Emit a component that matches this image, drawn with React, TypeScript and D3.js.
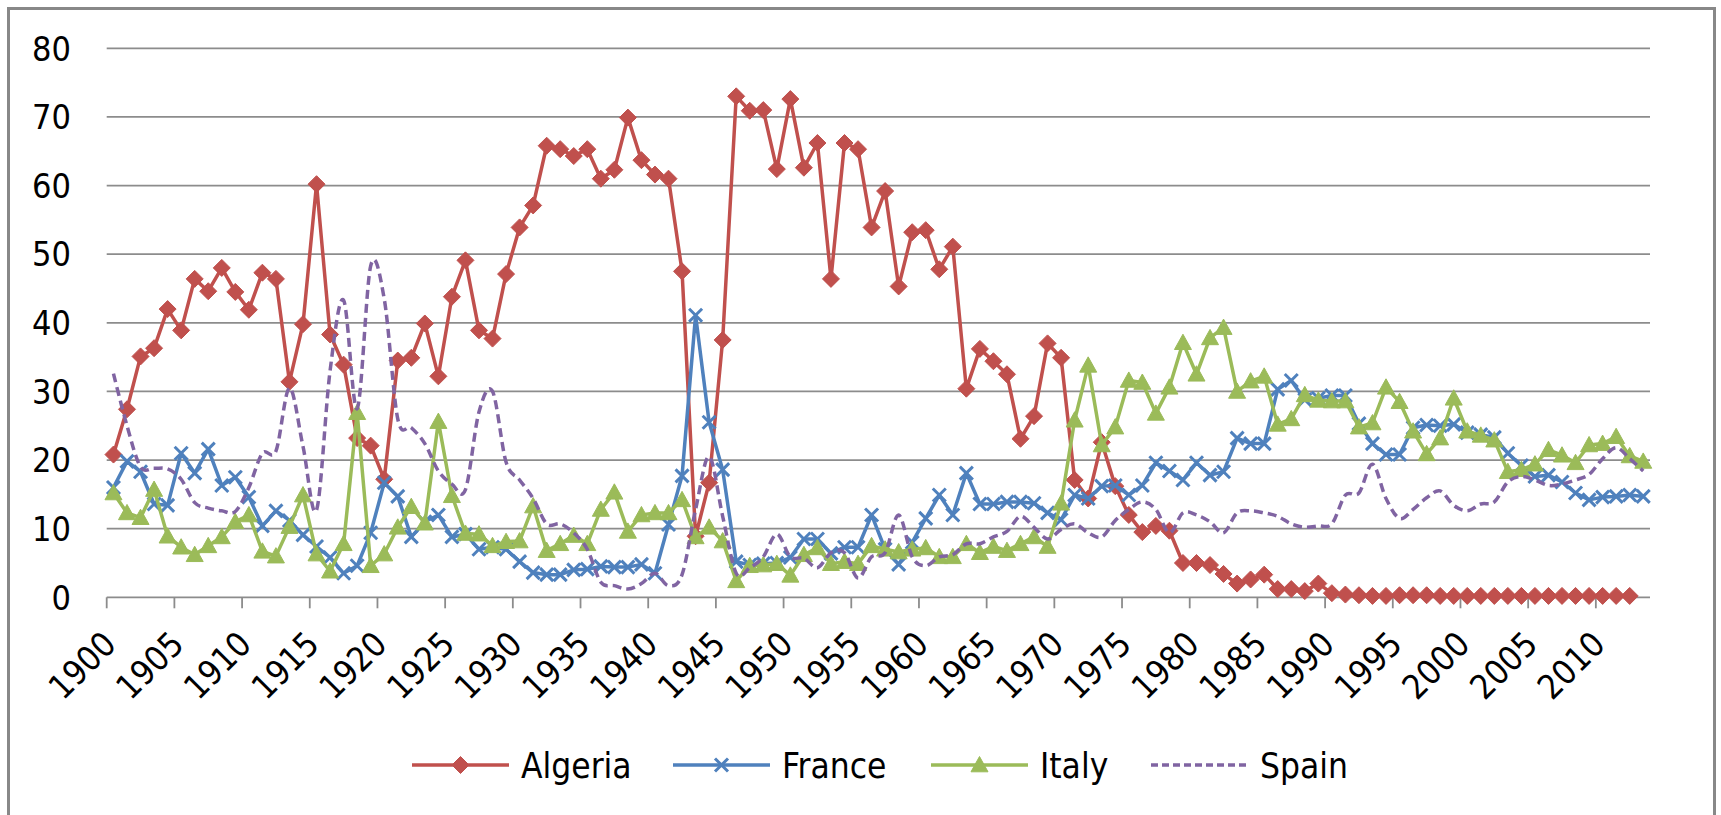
import React from "react";
import * as d3 from "d3";

// categories (years) and axis ticks
const years: number[] = d3.range(1900, 2014);
const tickYears = [1900, 1905, 1910, 1915, 1920, 1925, 1930, 1935, 1940, 1945, 1950, 1955, 1960, 1965, 1970, 1975, 1980, 1985, 1990, 1995, 2000, 2005, 2010];
const yTicks = [0, 10, 20, 30, 40, 50, 60, 70, 80];

// Algeria: 1900-2012
const algeria = [
  20.8, 27.4, 35.1, 36.3, 42.0, 38.9, 46.4, 44.6, 48.0, 44.5,
  41.9, 47.3, 46.4, 31.4, 39.8, 60.2, 38.3, 33.9, 23.2, 22.1,
  17.2, 34.5, 34.9, 39.9, 32.2, 43.8, 49.1, 38.9, 37.7, 47.1,
  53.9, 57.1, 65.8, 65.3, 64.3, 65.3, 61.0, 62.3, 69.9, 63.7,
  61.6, 61.0, 47.5, 8.9, 16.7, 37.5, 73.0, 70.9, 71.0, 62.4,
  72.6, 62.6, 66.2, 46.4, 66.2, 65.3, 53.9, 59.2, 45.3, 53.2,
  53.5, 47.8, 51.1, 30.4, 36.2, 34.4, 32.5, 23.1, 26.4, 37.0,
  34.9, 17.1, 14.4, 22.6, 16.2, 12.0, 9.5, 10.4, 9.7, 5.0,
  5.0, 4.7, 3.4, 2.0, 2.6, 3.3, 1.2, 1.2, 0.9, 2.0,
  0.6, 0.4, 0.3, 0.2, 0.2, 0.3, 0.3, 0.3, 0.2, 0.2,
  0.2, 0.2, 0.2, 0.2, 0.2, 0.2, 0.2, 0.2, 0.2, 0.2,
  0.2, 0.2, 0.2,
];

// France: 1900-2013
const france = [
  16.0, 19.8, 18.3, 13.6, 13.4, 21.0, 18.1, 21.6, 16.3, 17.5,
  14.6, 10.4, 12.6, 11.2, 9.1, 7.4, 5.8, 3.5, 4.6, 9.4,
  16.7, 14.7, 8.8, 11.0, 12.0, 8.8, 9.2, 7.0, 7.3, 7.0,
  5.2, 3.6, 3.3, 3.3, 4.0, 4.1, 4.5, 4.4, 4.4, 4.8,
  3.5, 10.6, 17.7, 41.1, 25.5, 18.6, 5.2, 4.7, 4.9, 5.0,
  5.8, 8.5, 8.5, 6.4, 7.3, 7.3, 12.0, 7.0, 4.8, 8.0,
  11.5, 14.9, 12.0, 18.1, 13.6, 13.6, 13.9, 13.9, 13.7, 12.3,
  11.3, 14.9, 14.4, 16.2, 16.3, 14.9, 16.3, 19.6, 18.4, 17.1,
  19.6, 17.8, 18.3, 23.2, 22.4, 22.4, 30.3, 31.6, 28.8, 29.0,
  29.4, 29.4, 25.3, 22.4, 20.8, 20.8, 24.7, 25.1, 25.0, 25.2,
  24.0, 23.7, 23.3, 21.0, 19.2, 17.6, 17.8, 16.8, 15.2, 14.2,
  14.6, 14.7, 14.9, 14.7,
];

// Italy: 1900-2013
const italy = [
  15.2, 12.3, 11.6, 15.7, 8.9, 7.3, 6.2, 7.5, 8.8, 11.0,
  12.0, 6.7, 6.0, 10.3, 14.9, 6.3, 3.8, 7.8, 26.9, 4.6,
  6.3, 10.2, 13.2, 10.8, 25.6, 14.8, 9.3, 9.2, 7.5, 8.1,
  8.2, 13.3, 6.8, 7.8, 9.0, 7.8, 12.8, 15.3, 9.6, 12.0,
  12.3, 12.3, 14.2, 8.8, 10.2, 8.2, 2.4, 4.6, 4.7, 4.9,
  3.2, 6.2, 7.2, 4.9, 5.2, 4.9, 7.5, 7.0, 6.6, 7.0,
  7.2, 5.9, 5.9, 7.8, 6.5, 7.4, 6.8, 7.8, 8.8, 7.4,
  13.7, 25.8, 33.8, 22.2, 24.8, 31.6, 31.3, 26.8, 30.6, 37.1,
  32.5, 37.8, 39.3, 30.0, 31.5, 32.2, 25.2, 26.0, 29.5, 28.7,
  28.6, 28.6, 24.8, 25.4, 30.6, 28.5, 24.2, 20.9, 23.2, 29.0,
  24.2, 23.6, 22.9, 18.3, 18.6, 19.4, 21.5, 20.7, 19.6, 22.2,
  22.4, 23.4, 20.6, 19.8,
];

// Spain: 1900-2013
const spain = [
  32.6, 25.0, 19.0, 18.8, 18.7, 17.2, 13.8, 13.0, 12.6, 12.5,
  16.0, 21.0, 21.3, 30.5, 22.0, 12.7, 33.0, 43.3, 27.5, 48.3,
  43.5, 26.0, 24.7, 22.4, 18.4, 16.5, 15.7, 27.0, 30.0, 19.7,
  17.1, 14.4, 10.7, 10.7, 9.4, 7.0, 2.2, 1.7, 1.2, 2.0,
  3.5, 1.7, 3.3, 12.8, 20.5, 11.8, 3.5, 4.3, 5.9, 9.2,
  5.9, 5.7, 4.3, 6.5, 6.5, 2.8, 5.9, 6.5, 12.0, 5.9,
  4.6, 5.9, 6.2, 7.8, 7.8, 8.8, 9.6, 11.8, 10.2, 8.5,
  9.9, 10.7, 9.4, 8.8, 11.2, 12.8, 13.9, 12.8, 9.4, 12.3,
  12.0, 11.0, 9.4, 12.3, 12.6, 12.3, 11.8, 10.7, 10.2, 10.4,
  10.7, 14.9, 15.2, 19.4, 14.4, 11.5, 12.8, 14.5, 15.5, 13.4,
  12.6, 13.6, 13.9, 16.8, 17.6, 17.1, 16.3, 16.5, 17.1, 17.9,
  20.2, 21.8, 20.2, 18.4,
];

const RED = "#C0504D";
const BLUE = "#4F81BD";
const GREEN = "#9BBB59";
const PURPLE = "#8064A2";
const GRID = "#8C8C8C";
const FONT = "'Liberation Sans Narrow', 'DejaVu Sans Condensed', Arial, sans-serif";

const W = 1721;
const H = 815;
const left = 106.7;
const right = 1650;
const top = 48.3;
const bottom = 597.3;

const x = d3.scaleBand<number>().domain(years).range([left, right]).padding(0);
const cx = (yr: number) => (x(yr) ?? 0) + x.bandwidth() / 2;
const y = d3.scaleLinear().domain([0, 80]).range([bottom, top]);

const lineFor = (curve: d3.CurveFactory) =>
  d3
    .line<number>()
    .x((_, i) => cx(years[i]))
    .y((d) => y(d))
    .curve(curve);

const diamond = (r: number) => `M0,${-r}L${r},0L0,${r}L${-r},0Z`;
const triangle = (r: number) => `M0,${-r}L${r},${r * 0.8}L${-r},${r * 0.8}Z`;

const Marker: React.FC<{ kind: string; tx: number; ty: number }> = ({ kind, tx, ty }) => {
  if (kind === "diamond")
    return <path d={diamond(8.5)} transform={`translate(${tx},${ty})`} fill={RED} stroke={RED} strokeWidth={1} />;
  if (kind === "x")
    return (
      <path
        d="M-6.5,-6.5L6.5,6.5M-6.5,6.5L6.5,-6.5"
        transform={`translate(${tx},${ty})`}
        stroke={BLUE}
        strokeWidth={3}
        fill="none"
      />
    );
  if (kind === "triangle")
    return <path d={triangle(8.5)} transform={`translate(${tx},${ty})`} fill={GREEN} stroke={GREEN} strokeWidth={1} />;
  return null;
};

const series = [
  { name: "Algeria", data: algeria, color: RED, marker: "diamond", dash: "", smooth: false },
  { name: "France", data: france, color: BLUE, marker: "x", dash: "", smooth: false },
  { name: "Italy", data: italy, color: GREEN, marker: "triangle", dash: "", smooth: false },
  { name: "Spain", data: spain, color: PURPLE, marker: "", dash: "9,5", smooth: true },
];

// legend line start positions
const legendX = [412, 673, 931, 1151];
const legendY = 765;

export default function App() {
  return (
    <div style={{ position: "absolute", left: 0, top: 0, background: "#fff" }}>
      <svg width={W} height={H} style={{ display: "block" }}>
        <rect x={0} y={0} width={W} height={H} fill="#fff" />
        <rect x={8.5} y={8.5} width={1706} height={900} fill="none" stroke="#888" strokeWidth={3} />

        {/* gridlines */}
        {yTicks.slice(1).map((t) => (
          <line key={t} x1={left} x2={right} y1={y(t)} y2={y(t)} stroke={GRID} strokeWidth={1.8} />
        ))}
        {yTicks.map((t) => (
          <text key={"l" + t} x={71} y={y(t)} dy="0.36em" textAnchor="end" fontFamily={FONT} fontSize={34} fill="#000">
            {t}
          </text>
        ))}

        {/* x axis */}
        <line x1={left} x2={right} y1={bottom} y2={bottom} stroke={GRID} strokeWidth={1.8} />
        {tickYears.map((t) => (
          <line key={"t" + t} x1={x(t)} x2={x(t)} y1={bottom} y2={bottom + 11} stroke={GRID} strokeWidth={1.8} />
        ))}
        {tickYears.map((t) => (
          <text
            key={"xl" + t}
            transform={`translate(${cx(t) + 4.5},${bottom + 49}) rotate(-45)`}
            textAnchor="end"
            fontFamily={FONT}
            fontSize={34}
            fill="#000"
          >
            {t}
          </text>
        ))}

        {/* series */}
        {series.map((s) => (
          <g key={s.name}>
            <path
              d={lineFor(s.smooth ? d3.curveCardinal.tension(0) : d3.curveLinear)(s.data) ?? ""}
              fill="none"
              stroke={s.color}
              strokeWidth={3.5}
              strokeDasharray={s.dash || undefined}
              strokeLinejoin="round"
            />
            {s.marker &&
              s.data.map((v, i) => <Marker key={i} kind={s.marker} tx={cx(years[i])} ty={y(v)} />)}
          </g>
        ))}

        {/* legend */}
        {series.map((s, i) => (
          <g key={"lg" + s.name}>
            <line
              x1={legendX[i]}
              x2={legendX[i] + 97}
              y1={legendY}
              y2={legendY}
              stroke={s.color}
              strokeWidth={3.5}
              strokeDasharray={s.dash ? "7,4" : undefined}
            />
            {s.marker && <Marker kind={s.marker} tx={legendX[i] + 48.5} ty={legendY} />}
            <text x={legendX[i] + 109} y={legendY} dy="0.36em" fontFamily={FONT} fontSize={35} fill="#000">
              {s.name}
            </text>
          </g>
        ))}
      </svg>
    </div>
  );
}
